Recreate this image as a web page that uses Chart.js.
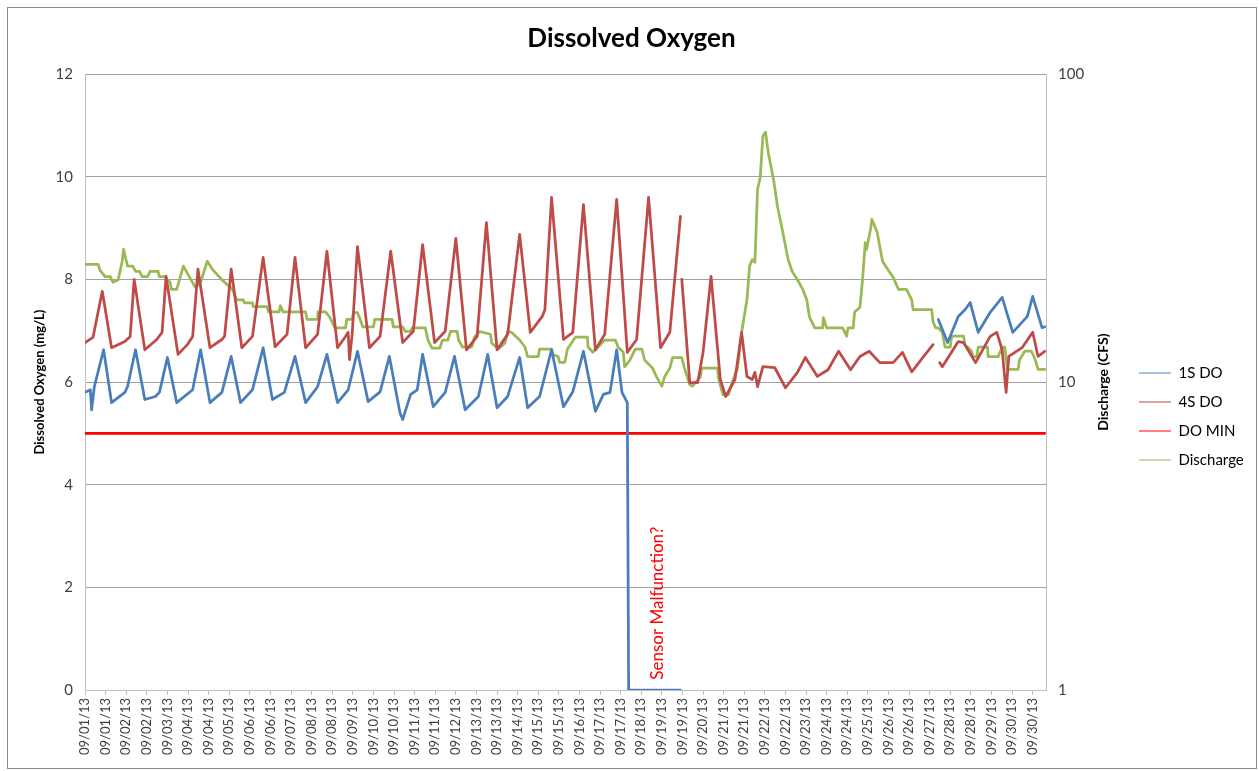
<!DOCTYPE html>
<html>
<head>
<meta charset="utf-8">
<script src="https://cdn.jsdelivr.net/npm/chart.js@4.4.1/dist/chart.umd.min.js"></script>
<style>
  html, body { margin: 0; padding: 0; background: #fff; }
  #wrap { position: relative; width: 1259px; height: 771px; }
  #frame { position: absolute; left: 7px; top: 7px; width: 1250px; height: 762px;
           border: 1px solid #8a8a8a; box-sizing: border-box; pointer-events: none; }
</style>
</head>
<body>
<div id="wrap">
  <canvas id="doChart" width="1259" height="771"></canvas>
  <div id="frame"></div>
</div>
<script>
// x values are hours since 09/01/13 00:00
const xTickLabels = [
  '09/01/13', '09/01/13', '09/02/13', '09/02/13', '09/03/13', '09/04/13', '09/04/13', '09/05/13',
  '09/06/13', '09/06/13', '09/07/13', '09/08/13', '09/08/13', '09/09/13', '09/10/13', '09/10/13',
  '09/11/13', '09/11/13', '09/12/13', '09/13/13', '09/13/13', '09/14/13', '09/15/13', '09/15/13',
  '09/16/13', '09/17/13', '09/17/13', '09/18/13', '09/19/13', '09/19/13', '09/20/13', '09/21/13',
  '09/21/13', '09/22/13', '09/22/13', '09/23/13', '09/24/13', '09/24/13', '09/25/13', '09/26/13',
  '09/26/13', '09/27/13', '09/28/13', '09/28/13', '09/29/13', '09/30/13', '09/30/13'
];
const tickStepHours = 15.5;
const rightTicks = [1, 10, 100];

// 1S DO (mg/L)
const do1S = [
  [0,5.8],[4,5.85],[5,5.46],[7,5.91],[14,6.63],[20,5.6],[30,5.8],[32,5.91],[38,6.63],[45,5.66],
  [53,5.72],[56,5.8],[62,6.48],[69,5.6],[81,5.85],[87,6.63],[94,5.6],[103,5.8],[110,6.5],[117,5.6],
  [126,5.85],[134,6.67],[141,5.66],[150,5.8],[158,6.5],[166,5.6],[175,5.91],[182,6.54],[190,5.6],
  [198,5.85],[205,6.6],[213,5.62],[222,5.81],[229,6.5],[237,5.4],[239,5.27],[245,5.76],[250,5.85],
  [254,6.54],[262,5.52],[271,5.8],[278,6.5],[286,5.46],[296,5.72],[303,6.54],[310,5.5],[318,5.72],
  [327,6.48],[333,5.5],[342,5.72],[351,6.63],[360,5.52],[367,5.81],[375,6.6],[384,5.43],[390,5.76],
  [395,5.8],[400,6.63],[404,5.8],[408,5.6],[409,0],[448,0],[449,null],
  [642,7.22],[649,6.77],[657,7.28],[662,7.41],[666,7.55],[672,6.97],[681,7.36],[690,7.65],
  [698,6.97],[709,7.28],[713,7.67],[720,7.06],[722,7.08]
];

// 4S DO (mg/L)
const do4S = [
  [0,6.77],[6,6.87],[13,7.77],[20,6.67],[30,6.79],[34,6.89],[37,8.0],[45,6.63],[54,6.83],[58,6.97],
  [61,8.06],[70,6.54],[77,6.73],[81,6.89],[85,8.2],[94,6.67],[103,6.83],[105,6.89],[110,8.2],
  [118,6.67],[126,6.89],[134,8.43],[143,6.69],[152,6.93],[158,8.43],[166,6.67],[175,6.93],[182,8.55],
  [190,6.67],[196,6.89],[198,6.97],[199,6.44],[201,6.93],[205,8.64],[214,6.67],[222,6.89],[230,8.55],
  [239,6.77],[247,6.99],[254,8.68],[263,6.77],[271,6.99],[279,8.8],[287,6.63],[295,6.89],[302,9.11],
  [310,6.63],[318,6.93],[327,8.88],[335,6.97],[344,7.28],[346,7.41],[351,9.6],[360,6.83],[367,6.97],
  [375,9.46],[384,6.63],[391,6.93],[400,9.56],[408,6.58],[415,6.83],[424,9.6],[433,6.67],[440,6.97],
  [448,9.23],[448.5,null],[449,8.0],[455,5.99],[461,5.99],[465,6.58],[471,8.06],[478,6.05],[482,5.72],
  [489,6.05],[494,6.97],[498,6.11],[502,6.05],[504,6.19],[506,5.91],[510,6.3],[519,6.28],[527,5.89],
  [536,6.19],[542,6.48],[551,6.11],[559,6.24],[567,6.6],[576,6.24],[583,6.5],[590,6.6],[598,6.38],
  [608,6.38],[615,6.58],[622,6.2],[631,6.5],[638,6.73],[640,null],[643,6.38],[645,6.3],[657,6.79],
  [661,6.77],[670,6.38],[681,6.89],[686,6.97],[690,6.63],[693,5.8],[695,6.5],[705,6.67],[713,6.97],
  [717,6.5],[722,6.6]
];

// DO MIN (mg/L)
const doMin = [[0,5],[722,5]];

// Discharge (CFS), right log axis
const discharge = [
  [0,24.1],[10,24.1],[11,23.2],[15,22.0],[19,22.0],[21,21.1],[25,21.5],[28,24.7],[29,27.0],[32,23.8],
  [36,23.8],[38,22.9],[41,22.9],[43,22.0],[47,22.0],[49,22.9],[55,22.9],[56,22.0],[60,22.0],[64,21.1],
  [65,20.0],[69,20.0],[74,23.8],[83,20.3],[87,21.1],[92,24.7],[96,23.2],[103,21.5],[107,20.7],
  [111,20.0],[114,18.5],[119,18.5],[120,18.1],[126,18.1],[126.5,17.6],[137,17.6],[138,16.9],
  [146,16.9],[147,17.7],[149,16.9],[166,16.9],[167,16.0],[175,16.0],[175.3,16.9],[181,16.9],
  [184,16.3],[188,15.0],[196,15.0],[197,16.0],[201,16.0],[202,16.8],[205,16.8],[207,16.0],[209,15.1],
  [217,15.1],[218,16.0],[231,16.0],[232,15.1],[239,15.1],[241,14.6],[245,14.6],[246,15.0],[256,15.0],
  [258,13.7],[261,12.9],[267,12.9],[269,13.7],[273,13.7],[275,14.6],[280,14.6],[281,13.7],[284,13.0],
  [291,13.0],[293,14.0],[297,14.6],[305,14.3],[306,13.4],[311,12.8],[316,13.4],[318,14.6],[321,14.5],
  [327,13.7],[331,13.0],[333,12.1],[341,12.1],[342,12.8],[351,12.8],[352,12.3],[356,12.1],[357,11.6],
  [361,11.6],[363,12.8],[369,14.0],[378,14.0],[378.5,13.0],[382,12.5],[386,13.0],[391,13.7],[399,13.7],
  [401,13.0],[405,12.5],[406,11.2],[410,11.8],[414,12.8],[419,12.8],[421,11.8],[427,11.1],[430,10.4],
  [434,9.7],[436,10.4],[440,11.1],[442,12.0],[449,12.0],[451,11.1],[455,9.8],[457,9.7],[463,10.4],
  [464,11.1],[476,11.1],[476.5,10.3],[480,9.1],[484,9.1],[488,10.3],[491,11.1],[494,14.5],[498,18.5],
  [500,23.8],[502,25.0],[504,24.5],[506,42.3],[508,46.2],[510,62.9],[512,64.8],[514,55.8],[518,45.6],
  [521,37.2],[525,30.6],[529,25.0],[532,22.9],[536,21.5],[540,20.0],[542,19.0],[543,18.5],[545,16.3],
  [549,15.0],[555,15.0],[555.5,16.2],[558,15.0],[570,15.0],[573,14.1],[574,15.0],[578,15.0],[579,16.9],
  [583,17.5],[585,21.5],[587,28.4],[588,27.0],[591,31.3],[592,33.8],[596,30.6],[600,24.7],[604,23.2],
  [608,21.9],[612,20.0],[618,20.0],[622,18.5],[623,17.2],[637,17.2],[638,15.7],[640,15.0],[642,15.0],
  [645,14.5],[647,13.0],[651,13.0],[652,14.1],[661,14.1],[662,13.2],[664,13.0],[667,12.6],[668,12.1],
  [671,12.1],[672,13.0],[679,13.0],[679.5,12.1],[687,12.1],[690,13.0],[692,13.0],[694,11.0],[702,11.0],
  [703,11.8],[707,12.6],[712,12.6],[715,11.8],[717,11.0],[722,11.0]
];

const noteText = 'Sensor Malfunction?';
const noteHour = 431;
const noteDO = 0.2;

const fontFamily = 'Lato, "Open Sans", sans-serif';
const toPoints = arr => arr.map(([x, y]) => ({ x: x, y: y }));

// legend: fixed width, pushed down a little like the original
const legendTweak = {
  id: 'legendTweak',
  beforeLayout(chart) {
    const lg = chart.legend;
    if (lg && !lg._fixed) {
      const fit = lg.fit.bind(lg);
      lg.fit = function () { fit(); this.width = 130; };
      lg._fixed = true;
    }
  },
  afterLayout(chart) {
    const lg = chart.legend;
    lg.top += 33;
    lg.bottom += 33;
  }
};

// right axis title (reads bottom-to-top) and the red note
const extraText = {
  id: 'extraText',
  afterDraw(chart) {
    const { ctx, chartArea, scales } = chart;
    ctx.save();
    ctx.translate(1103, (chartArea.top + chartArea.bottom) / 2);
    ctx.rotate(-Math.PI / 2);
    ctx.font = 'bold 14px ' + fontFamily;
    ctx.fillStyle = '#000';
    ctx.textAlign = 'center';
    ctx.textBaseline = 'middle';
    ctx.fillText('Discharge (CFS)', 0, 0);
    ctx.restore();

    ctx.save();
    ctx.translate(scales.x.getPixelForValue(noteHour), scales.y.getPixelForValue(noteDO));
    ctx.rotate(-Math.PI / 2);
    ctx.font = '17px ' + fontFamily;
    ctx.fillStyle = '#ff0000';
    ctx.textAlign = 'left';
    ctx.textBaseline = 'middle';
    ctx.fillText(noteText, 0, 0);
    ctx.restore();
  }
};

const labelColor = '#404040';
const gridColor = '#a0a0a0';
const axisColor = '#bfbfbf';

new Chart(document.getElementById('doChart'), {
  type: 'line',
  data: {
    datasets: [
      { label: '1S DO', data: toPoints(do1S), borderColor: '#4a7ebb', backgroundColor: '#4a7ebb', yAxisID: 'y' },
      { label: '4S DO', data: toPoints(do4S), borderColor: '#be4b48', backgroundColor: '#be4b48', yAxisID: 'y' },
      { label: 'DO MIN', data: toPoints(doMin), borderColor: '#ff0000', backgroundColor: '#ff0000', yAxisID: 'y' },
      { label: 'Discharge', data: toPoints(discharge), borderColor: '#98b954', backgroundColor: '#98b954', yAxisID: 'y2' }
    ]
  },
  options: {
    responsive: false,
    animation: false,
    spanGaps: false,
    elements: {
      point: { radius: 0 },
      line: { borderWidth: 2.75, tension: 0, borderJoinStyle: 'round', borderCapStyle: 'round' }
    },
    layout: { padding: { left: 8, top: 8, right: 4, bottom: 12 } },
    plugins: {
      title: {
        display: true,
        text: 'Dissolved Oxygen',
        color: '#000',
        font: { family: fontFamily, size: 26, weight: 'bold' },
        padding: { top: 15, bottom: 20 }
      },
      legend: {
        position: 'right',
        align: 'center',
        labels: {
          usePointStyle: true,
          pointStyle: 'line',
          pointStyleWidth: 32,
          padding: 14,
          color: '#000',
          font: { family: fontFamily, size: 15 }
        }
      },
      tooltip: { enabled: false }
    },
    scales: {
      x: {
        type: 'linear',
        min: 0,
        max: 723,
        afterBuildTicks: scale => {
          scale.ticks = xTickLabels.map((_, i) => ({ value: i * tickStepHours }));
        },
        afterFit: scale => { scale.height = 69; },
        ticks: {
          autoSkip: false,
          minRotation: 90,
          maxRotation: 90,
          padding: 3,
          color: labelColor,
          font: { family: fontFamily, size: 13 },
          callback: (v, i) => xTickLabels[i]
        },
        grid: { drawOnChartArea: false, tickLength: 5, color: axisColor },
        border: { color: axisColor }
      },
      y: {
        position: 'left',
        min: 0,
        max: 12,
        afterFit: scale => { scale.width = 77; },
        ticks: {
          stepSize: 2,
          padding: 12,
          color: labelColor,
          font: { family: fontFamily, size: 15 }
        },
        grid: { color: gridColor, drawTicks: false },
        border: { color: axisColor },
        title: {
          display: true,
          text: 'Dissolved Oxygen (mg/L)',
          color: '#000',
          font: { family: fontFamily, size: 13, weight: 'bold' },
          padding: { top: 24, bottom: 0 }
        }
      },
      y2: {
        type: 'logarithmic',
        position: 'right',
        min: 1,
        max: 100,
        afterBuildTicks: scale => {
          scale.ticks = rightTicks.map(v => ({ value: v }));
        },
        afterFit: scale => { scale.width = 79; },
        ticks: {
          padding: 12,
          color: labelColor,
          font: { family: fontFamily, size: 15 },
          callback: v => String(v)
        },
        grid: { drawOnChartArea: false, drawTicks: false },
        border: { color: axisColor }
      }
    }
  },
  plugins: [legendTweak, extraText]
});
</script>
</body>
</html>
